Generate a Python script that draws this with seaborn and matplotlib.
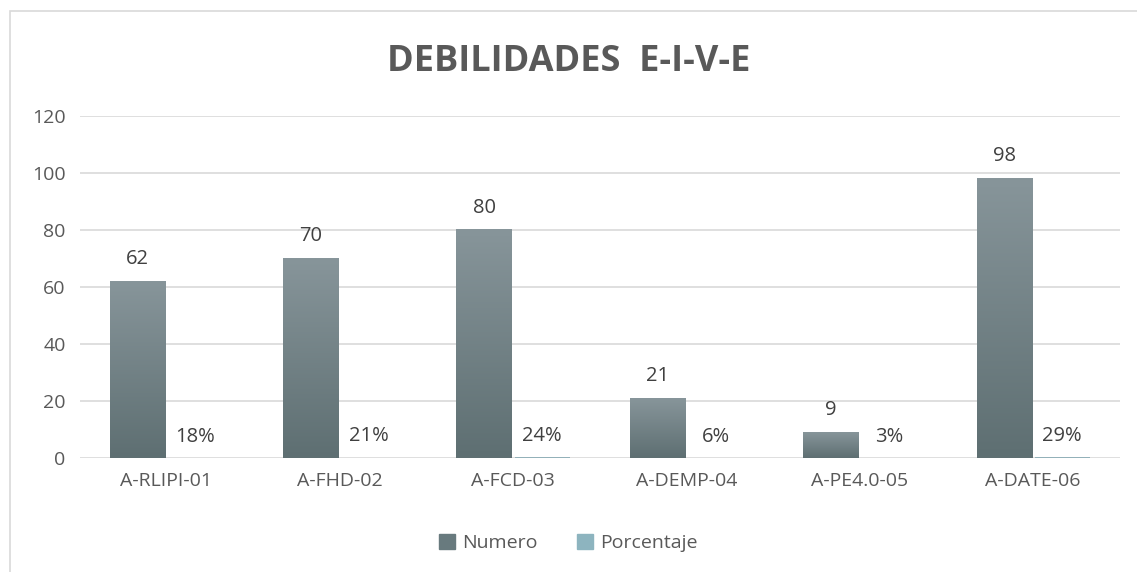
import numpy as np
import pandas as pd
import seaborn as sns
import matplotlib.pyplot as plt
from matplotlib.colors import LinearSegmentedColormap
from matplotlib.patches import Rectangle

categories = ['A-RLIPI-01', 'A-FHD-02', 'A-FCD-03', 'A-DEMP-04', 'A-PE4.0-05', 'A-DATE-06']
numero = [62, 70, 80, 21, 9, 98]
porcentaje = [0.18, 0.21, 0.24, 0.06, 0.03, 0.29]

df = pd.DataFrame({
    'categoria': categories * 2,
    'serie': ['Numero'] * len(categories) + ['Porcentaje'] * len(categories),
    'valor': numero + porcentaje,
})

sns.set_theme(style='white')
plt.rcParams['font.family'] = ['Open Sans', 'DejaVu Sans']

fig = plt.figure(figsize=(11.37, 5.72), dpi=100)
ax = fig.add_axes([0.070, 0.199, 0.915, 0.598])

palette = {'Numero': '#687a7e', 'Porcentaje': '#8db4bf'}
sns.barplot(data=df, x='categoria', y='valor', hue='serie', palette=palette,
            width=0.67, gap=0.05, ax=ax, legend=False, linewidth=0, edgecolor='none')

# gradient fill for the Numero bars
grad = LinearSegmentedColormap.from_list('g', ['#5e6f72', '#87959a'])
for p in ax.containers[0]:
    x, y = p.get_x(), p.get_y()
    w, h = p.get_width(), p.get_height()
    ax.imshow(np.linspace(0, 1, 100).reshape(-1, 1), extent=[x, x + w, y, y + h],
              aspect='auto', cmap=grad, origin='lower', clip_path=p, zorder=p.get_zorder())

ax.bar_label(ax.containers[0], labels=[str(v) for v in numero], padding=9,
             fontsize=14.5, color='#404040')
ax.bar_label(ax.containers[1], labels=[f'{round(v * 100)}%' for v in porcentaje],
             padding=8, fontsize=14.5, color='#404040')

ax.set_ylim(0, 120)
ax.set_xlim(-0.5, len(categories) - 0.5)
ax.set_yticks(range(0, 121, 20))
ax.yaxis.grid(True, color='#d9d9d9', linewidth=1.2)
ax.set_axisbelow(True)
for s in ax.spines.values():
    s.set_visible(False)
ax.tick_params(axis='both', length=0, labelsize=14, colors='#595959', pad=10)
ax.set_xlabel('')
ax.set_ylabel('')

fig.text(0.5, 0.892, 'DEBILIDADES  E-I-V-E', ha='center', va='center',
         fontsize=26, fontweight='bold', color='#595959')

handles = [Rectangle((0, 0), 1, 1, color=palette['Numero']),
           Rectangle((0, 0), 1, 1, color=palette['Porcentaje'])]
fig.legend(handles, ['Numero', 'Porcentaje'], loc='center', bbox_to_anchor=(0.5, 0.05),
           ncol=2, frameon=False, fontsize=14, handlelength=0.8, handleheight=0.8,
           columnspacing=2.0, handletextpad=0.4, labelcolor='#595959')

fig.add_artist(Rectangle((10 / 1137, -0.1), 1.2, 1.1 - 11 / 572, transform=fig.transFigure,
                         fill=False, edgecolor='#d9d9d9', linewidth=1.2))

fig.savefig('out.png', dpi=100)
